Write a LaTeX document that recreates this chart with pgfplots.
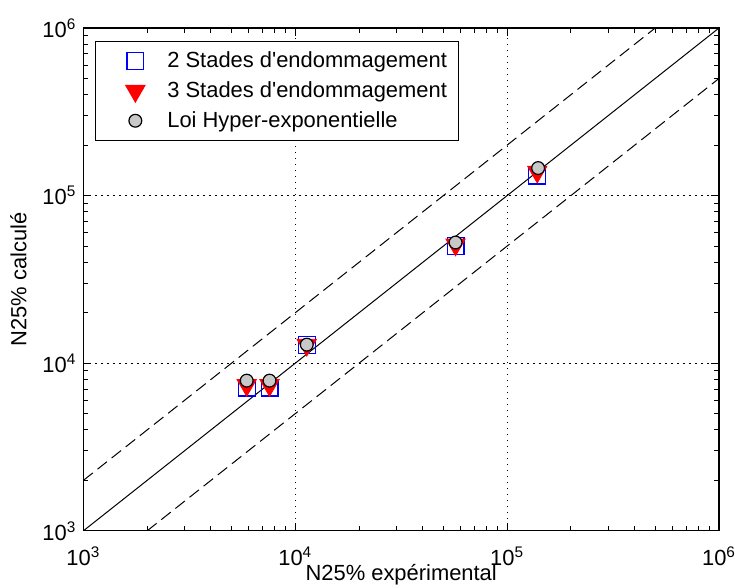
\documentclass[border=0pt]{standalone}
\usepackage{pgfplots}
\pgfplotsset{compat=1.18}
\usepackage{fontspec}
\setmainfont{Liberation Sans}
\definecolor{mgray}{RGB}{200,200,200}
\pgfplotsset{mylegimg/.style={legend image code/.code={\path[draw=none,fill=none] (0bp,-3bp) rectangle (30bp,3bp); \draw[mark repeat=2,mark phase=2,##1] plot coordinates {(0bp,0bp) (16bp,0bp) (32bp,0bp)};}}}
\begin{document}
\begin{tikzpicture}[font=\fontsize{11}{13}\selectfont]
\path[use as bounding box] (-41.7bp,-28.6bp) rectangle (325.8bp,265.4bp);
\begin{axis}[
  at={(0,0)}, anchor=south west,
  scale only axis, width=317.8bp, height=251.4bp,
  xmode=log, ymode=log,
  xmin=1e3, xmax=1e6, ymin=1e3, ymax=1e6,
  xtick={1e3,1e4,1e5,1e6}, ytick={1e3,1e4,1e5,1e6},
  xticklabels={10\textsuperscript{3},10\textsuperscript{4},10\textsuperscript{5},10\textsuperscript{6}},
  yticklabels={10\textsuperscript{3},10\textsuperscript{4},10\textsuperscript{5},10\textsuperscript{6}},
  major grid style={black, dash pattern=on 0.6bp off 2.4bp},
  xmajorgrids, ymajorgrids,
  major tick length=4bp, minor tick length=2.5bp,
  tick style={black, line width=0.5bp},
  axis line style={line width=0.6bp},
  xlabel={N25\% expérimental},
  ylabel={N25\% calculé},
  every axis x label/.style={at={(axis description cs:0.5,0)}, anchor=base, yshift=-25bp},
  every axis y label/.style={at={(axis description cs:-0.0898,0.5)}, rotate=90, anchor=base},
  xticklabel style={anchor=base, yshift=-17.5bp},
  legend style={at={(0.018,0.974)}, anchor=north west, draw=black, line width=0.5bp,
    legend cell align=left, row sep=1.5bp, inner xsep=4bp, inner ysep=3bp,
    nodes={inner sep=2bp}},
]
\addplot[only marks, mylegimg, mark=square, mark size=4.2bp, draw=blue, line width=0.6bp]
  coordinates {(5900,7160) (7560,7160) (11330,12860) (57100,50200) (138700,131600)};
\addlegendentry{2 Stades d\textquotesingle endommagement}
\addplot[only marks, mylegimg, mark=triangle*, mark options={rotate=180}, mark size=5.6bp, draw=red, fill=red]
  coordinates {(5900,7400) (7560,7400) (11330,12860) (57100,51000) (138700,138700)};
\addlegendentry{3 Stades d\textquotesingle endommagement}
\addplot[only marks, mylegimg, mark=*, mark size=3.2bp, draw=black, fill=mgray, line width=0.6bp]
  coordinates {(5900,7870) (7560,7870) (11330,12900) (57100,52500) (140000,146000)};
\addlegendentry{Loi Hyper-exponentielle}
\addplot[black, line width=0.5bp, forget plot] coordinates {(1e3,1e3) (1e6,1e6)};
\addplot[black, line width=0.5bp, dash pattern=on 6bp off 3bp, forget plot] coordinates {(1e3,2e3) (5e5,1e6)};
\addplot[black, line width=0.5bp, dash pattern=on 6bp off 3bp, forget plot] coordinates {(2e3,1e3) (1e6,5e5)};
\end{axis}
\end{tikzpicture}
\end{document}
